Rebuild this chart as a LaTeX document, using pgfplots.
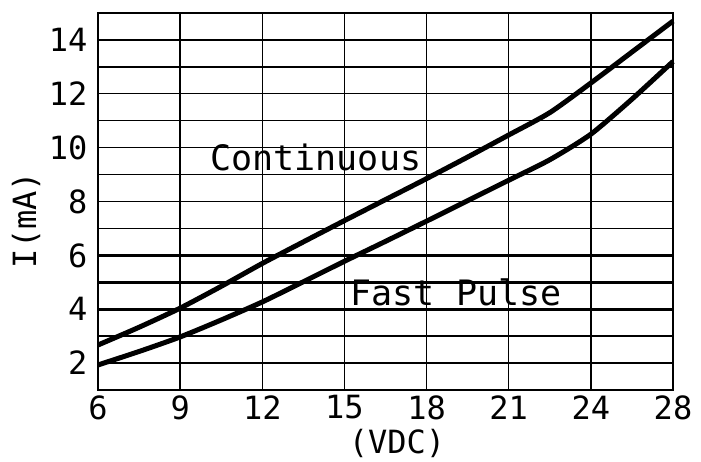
\documentclass[border=0pt]{standalone}
\usepackage{fontspec}
\setmainfont{DejaVu Sans Mono}
\usepackage{pgfplots}
\pgfplotsset{compat=1.18}
\begin{document}
\begin{tikzpicture}
\begin{axis}[
  scale only axis, width=575bp, height=377bp,
  xmin=6, xmax=27, ymin=1, ymax=15,
  xtick={6,9,12,15,18,21,24,27},
  xticklabels={6,9,12,15,18,21,24,28},
  ytick={2,4,...,14},
  minor ytick={1,3,...,15},
  extra y ticks={4,5,6},
  extra y tick labels={},
  extra y tick style={grid=major, major grid style={black, line width=2.7bp}},
  major tick length=0pt, minor tick length=0pt,
  grid=both,
  major grid style={black, line width=1.3bp},
  minor grid style={black, line width=1.3bp},
  axis line style={black, line width=1.3bp},
  tick label style={font=\fontsize{32bp}{34bp}\selectfont},
  xticklabel style={yshift=-2bp},
  yticklabel style={xshift=-7bp},
  /pgf/number format/assume math mode=true,
  xlabel={(VDC)}, ylabel={I(mA)},
  xlabel style={font=\fontsize{32bp}{34bp}\selectfont, at={(axis description cs:0.52,-0.142)}, anchor=center},
  ylabel style={font=\fontsize{32bp}{34bp}\selectfont, at={(axis description cs:-0.125,0.451)}, anchor=center},
  clip=false,
]
\addplot[black, line width=5bp, smooth, tension=0.4] coordinates {
(6,2.67) (7.5,3.33) (9,4.04) (10.5,4.85) (12,5.7) (13.5,6.5) (15,7.29)
(16.5,8.07) (18,8.85) (19.5,9.65) (21,10.47) (22.5,11.3) (24,12.4)
(25.5,13.55) (27,14.7)};
\addplot[black, line width=5bp, smooth, tension=0.4] coordinates {
(6,1.93) (7.5,2.43) (9,2.97) (10.5,3.6) (12,4.27) (13.5,5.02) (15,5.78)
(16.5,6.52) (18,7.27) (19.5,8.03) (21,8.79) (22.5,9.55) (24,10.5)
(25.5,11.8) (27,13.2)};
\node[anchor=base west, inner sep=0pt, font=\fontsize{35bp}{36bp}\selectfont] at (axis cs:10.1,9.15) {Continuous};
\node[anchor=base west, inner sep=0pt, font=\fontsize{35bp}{36bp}\selectfont] at (axis cs:15.22,4.15) {Fast Pulse};
\end{axis}
\pgfresetboundingbox
\useasboundingbox (current axis.south west) ++(-98bp,-72bp) rectangle ++(701bp,462bp);
\end{tikzpicture}
\end{document}
